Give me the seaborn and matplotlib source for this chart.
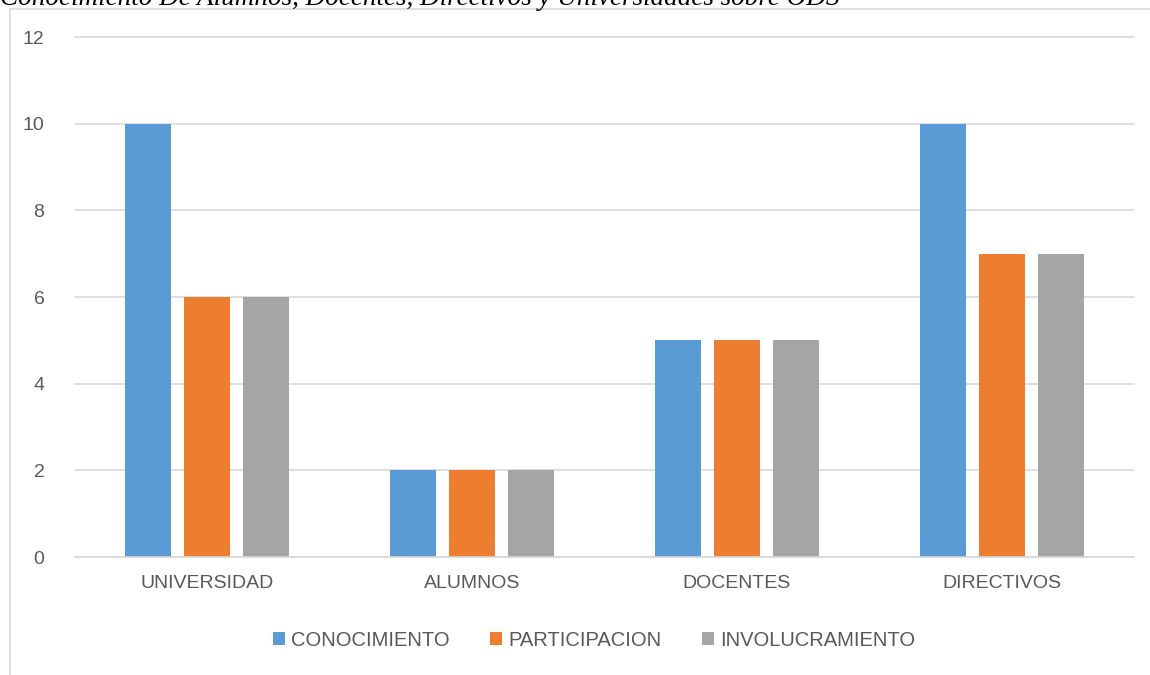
import pandas as pd
import matplotlib
matplotlib.use("Agg")
import matplotlib.pyplot as plt
import seaborn as sns
from matplotlib.patches import Rectangle

# data
groups = ["UNIVERSIDAD", "ALUMNOS", "DOCENTES", "DIRECTIVOS"]
series = ["CONOCIMIENTO", "PARTICIPACION", "INVOLUCRAMIENTO"]
conocimiento = [10, 2, 5, 10]
participacion = [6, 2, 5, 7]
involucramiento = [6, 2, 5, 7]
colors = ["#5B9BD5", "#ED7D31", "#A5A5A5"]
title = "Conocimiento De Alumnos, Docentes, Directivos y Universidades sobre ODS"

rows = []
for name, vals in zip(series, [conocimiento, participacion, involucramiento]):
    for g, v in zip(groups, vals):
        rows.append({"grupo": g, "serie": name, "valor": v})
df = pd.DataFrame(rows)

sns.set_style("white")
plt.rcParams["font.family"] = ["Liberation Sans", "DejaVu Sans"]

fig = plt.figure(figsize=(11.5, 6.75), dpi=100)
ax = fig.add_axes([75 / 1150, 118 / 675, 1059 / 1150, 520 / 675])

sns.barplot(data=df, x="grupo", y="valor", hue="serie", order=groups,
            hue_order=series, palette=colors, width=0.668, gap=0.22,
            saturation=1, linewidth=0, ax=ax, legend=True)

ax.set_ylim(0, 12)
ax.set_yticks(range(0, 13, 2))
ax.set_xlim(-0.5, 3.5)
ax.grid(axis="y", color="#d9d9d9", linewidth=1.2)
ax.set_axisbelow(True)
for s in ax.spines.values():
    s.set_visible(False)
for gl in ax.get_ygridlines():
    gl.set_clip_on(False)
ax.axhline(0, color="#d9d9d9", linewidth=1.2, zorder=3, clip_on=False)
ax.set_xlabel("")
ax.set_ylabel("")
ax.tick_params(axis="both", length=0, labelsize=14, labelcolor="#595959")
ax.tick_params(axis="y", pad=22)
ax.tick_params(axis="x", pad=13)

leg = ax.legend(loc="center", bbox_to_anchor=(0.49, (675 - 640 - 118) / 520),
                ncol=3, frameon=False, fontsize=14.5, handlelength=0.6,
                handleheight=0.6, handletextpad=0.3, columnspacing=2.0)
for t in leg.get_texts():
    t.set_color("#595959")

# chart frame (left and top edges visible)
fig.patches.append(Rectangle((10 / 1150, -0.1), 1.2, 0.1 + (675 - 9) / 675,
                             transform=fig.transFigure, fill=False,
                             edgecolor="#d9d9d9", linewidth=1.2))

fig.text(0.0, 1 - 5 / 675, title, family="Liberation Serif", style="italic",
         fontsize=19.5, color="black", va="baseline", ha="left")

fig.savefig("out.png", dpi=100)
